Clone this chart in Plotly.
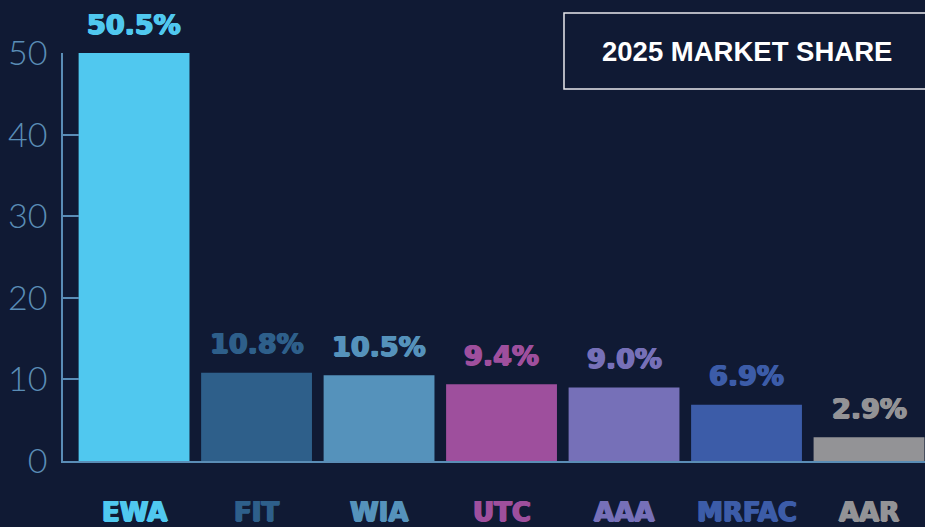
import plotly.graph_objects as go

categories = ["EWA", "FIT", "WIA", "UTC", "AAA", "MRFAC", "AAR"]
shares = [50.5, 10.8, 10.5, 9.4, 9.0, 6.9, 2.9]
labels = ["50.5%", "10.8%", "10.5%", "9.4%", "9.0%", "6.9%", "2.9%"]
colors = ["#50c8ef", "#2e5f8a", "#5592bb", "#9e4f9d", "#7670b8", "#3c5ca8", "#939396"]
y_ticks = [0, 10, 20, 30, 40, 50]
y_max = 50
title_text = "2025 MARKET SHARE"

BG = "#101a34"
AXIS = "#5a8db6"


def heavy(col):
    return f"0.9px 0 0 {col}, -0.9px 0 0 {col}, 0 0.6px 0 {col}, 0 -0.4px 0 {col}"


fig = go.Figure()
fig.add_trace(go.Bar(
    x=categories, y=shares, marker=dict(color=colors, line=dict(width=0)),
    width=0.905, hoverinfo="skip",
))

for c, v, t, col in zip(categories, shares, labels, colors):
    fig.add_annotation(x=c, y=min(v, y_max) / y_max, xref="x", yref="paper", text=t, showarrow=False,
                       yanchor="middle", yshift=29,
                       font=dict(family="DejaVu Sans", size=27, color=col, weight="bold",
                                 shadow=heavy(col)))
    fig.add_annotation(x=c, y=-0.125, xref="x", yref="paper", text=c, showarrow=False,
                       yanchor="middle",
                       font=dict(family="DejaVu Sans", size=26, color=col, weight="bold",
                                 shadow=heavy(col)))

fig.add_shape(type="rect", xref="paper", yref="paper", x0=0.5812, x1=1.05, y0=0.912, y1=1.098,
              line=dict(color="#e8e8ec", width=1.5), fillcolor="rgba(0,0,0,0)", layer="above")
fig.add_annotation(x=0.7935, y=1.0025, xref="paper", yref="paper", text=title_text, showarrow=False,
                   xanchor="center", yanchor="middle",
                   font=dict(family="Liberation Sans", size=27.5, color="#ffffff", weight="bold"))

fig.update_layout(
    width=925, height=527,
    margin=dict(l=63, r=0, t=53, b=66),
    paper_bgcolor=BG, plot_bgcolor=BG,
    showlegend=False,
    xaxis=dict(range=[-0.58, 6.457], showticklabels=False, showline=True, linecolor=AXIS,
               linewidth=1.5, ticks="", showgrid=False, zeroline=False, fixedrange=True),
    yaxis=dict(range=[0, y_max], tickvals=y_ticks, showline=True, linecolor=AXIS, linewidth=1.5,
               ticks="inside", ticklen=16, tickcolor=AXIS, tickwidth=1.5, showgrid=False,
               zeroline=False, ticklabelstandoff=7,
               tickfont=dict(family="Lato", size=34, color=AXIS, weight=300)),
)

fig.write_html("out.html")
